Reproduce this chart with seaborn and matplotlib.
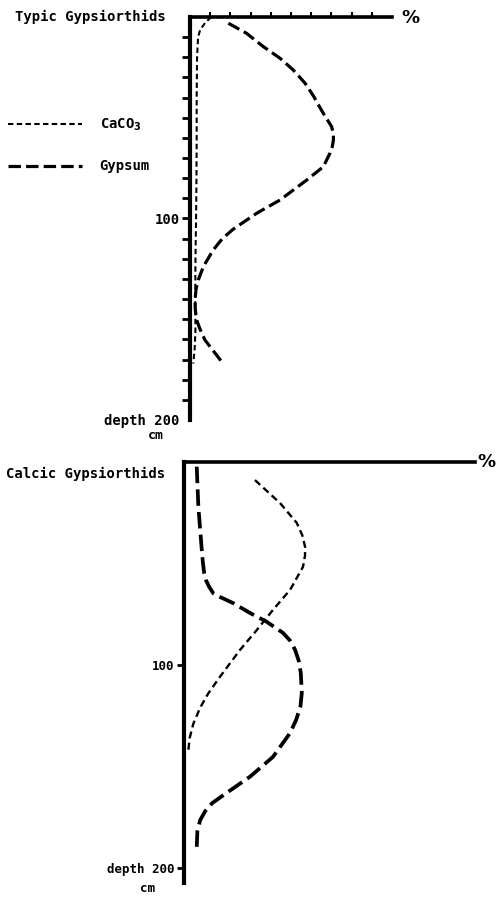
import seaborn as sns
import matplotlib.pyplot as plt

# Typic Gypsiorthids (top profile): depth in cm, content in %
typic_caco3_depth = [0, 3, 6.5, 10, 20, 40, 60, 80, 100, 120, 140, 155, 165, 172]
typic_caco3_pct = [10.5, 7.4, 5, 4, 3.5, 3.3, 3.3, 3.2, 3, 2.7, 2.6, 2.7, 2.3, 1.6]
typic_gyp_depth = [3.1, 8.1, 14.7, 20.5, 26.3, 32.9, 39.5, 44, 47.8, 54.4, 58, 61, 64.5,
                   67.6, 74.3, 80.9, 85.9, 90.8, 97.4, 105.3, 110, 115.6, 123.9,
                   130.5, 135, 140.4, 145, 150.4, 155, 160.3, 171.1]
typic_gyp_pct = [19, 28, 36.3, 44.6, 51.1, 57, 61.3, 63.8, 66, 70.1, 71, 71, 70.4,
                 69.3, 66, 57.8, 51.1, 44.6, 33, 21.4, 16, 11.5, 6.6,
                 4.1, 3, 2.5, 2.6, 3.3, 5, 7.4, 15.7]

# Calcic Gypsiorthids (bottom profile)
calcic_caco3_depth = [8.9, 20.2, 30, 36, 41.7, 46, 51.6, 63, 72.9, 82.8, 92.6, 105.8,
                      114, 121, 129, 136, 142.5]
calcic_caco3_pct = [35.1, 47.5, 55.8, 58.5, 59.9, 59.9, 58.9, 52.5, 44, 36, 27.7, 17.8,
                    12, 8, 4.6, 2.8, 2.1]
calcic_gyp_depth = [2.3, 22, 43.3, 50, 54.8, 58.5, 61.4, 64.7, 66.5, 69.5, 74.4, 78.7,
                    84.2, 88, 92.6, 98, 104, 113.8, 120.5, 127, 133.5, 145.3, 155, 163,
                    168, 172, 176.4, 182, 190]
calcic_gyp_pct = [6.3, 7.1, 8.8, 9.4, 10, 11, 12.4, 14.5, 17.8, 24.3, 32.7, 40.9,
                  49, 52.5, 55, 56.8, 57.8, 58.3, 57.6, 55.5, 52.5, 44, 32.7, 21.1,
                  14, 10.5, 8, 6.6, 6.3]

sns.set_style("white")
plt.rcParams["font.family"] = ["DejaVu Sans Mono", "DejaVu Sans"]
plt.rcParams["font.weight"] = "bold"
plt.rcParams["text.color"] = "black"
plt.rcParams["axes.edgecolor"] = "black"
plt.rcParams["xtick.color"] = "black"
plt.rcParams["ytick.color"] = "black"

W, H = 501, 905
fig = plt.figure(figsize=(W / 100, H / 100), dpi=100)

# axes boxes in pixels: left, top, right, bottom
ax1 = fig.add_axes([190 / W, 1 - 420 / H, 202 / W, 403 / H])
ax2 = fig.add_axes([184 / W, 1 - 883 / H, 291 / W, 421 / H])


def frame(ax, xmax, ymax):
    ax.set_xlim(0, xmax)
    ax.set_ylim(ymax, 0)
    ax.spines["right"].set_visible(False)
    ax.spines["bottom"].set_visible(False)
    ax.spines["left"].set_linewidth(3)
    ax.spines["top"].set_linewidth(2.6)
    ax.set_xlabel("")
    ax.set_ylabel("")
    ax.xaxis.set_ticks_position("top")
    ax.set_xticks([])


# ---- top panel
sns.lineplot(x=typic_caco3_pct, y=typic_caco3_depth, orient="y", sort=False,
             estimator=None, color="black", lw=1.5, linestyle=(0, (2.6, 1.6)),
             label="CaCO$_3$", ax=ax1)
sns.lineplot(x=typic_gyp_pct, y=typic_gyp_depth, orient="y", sort=False,
             estimator=None, color="black", lw=2.3, linestyle=(0, (3.9, 1.6)),
             label="Gypsum", ax=ax1)
frame(ax1, 100, 200)
ax1.set_yticks([100, 200], ["100", "depth 200"], fontsize=10)
ax1.set_yticks([v for v in range(10, 200, 10) if v != 100], minor=True)
ax1.tick_params(axis="y", which="both", left=True, direction="out", length=6,
                width=2, pad=1.5)
ax1.yaxis.get_major_ticks()[1].tick1line.set_visible(False)
ax1.set_xticks(list(range(10, 100, 10)), minor=True)
ax1.tick_params(axis="x", which="minor", top=True, bottom=False, direction="out",
                length=3.5, width=1.5, labeltop=False)
ax1.annotate("%", xy=(1, 1), xycoords="axes fraction", xytext=(7, -1),
             textcoords="offset points", ha="left", va="center", fontsize=13,
             fontweight="bold", family="DejaVu Sans")
ax1.annotate("cm", xy=(0, 200), xycoords="data", xytext=(-24.5, -11),
             textcoords="offset points", ha="center", va="center", fontsize=9.5)
fig.text(15 / W, 1 - 17 / H, "Typic Gypsiorthids", ha="left", va="center",
         fontsize=10, fontweight="bold")
ax1.legend(loc="center left", bbox_to_anchor=(8 / W, 1 - 145 / H),
           bbox_transform=fig.transFigure, frameon=False, handlelength=5.3,
           handletextpad=1.3, labelspacing=1.9, borderpad=0, borderaxespad=0,
           prop={"family": ["DejaVu Sans Mono", "DejaVu Sans"], "weight": "bold",
                 "size": 10})

# ---- bottom panel
sns.lineplot(x=calcic_caco3_pct, y=calcic_caco3_depth, orient="y", sort=False,
             estimator=None, color="black", lw=1.7, linestyle=(0, (3.0, 1.8)),
             ax=ax2)
sns.lineplot(x=calcic_gyp_pct, y=calcic_gyp_depth, orient="y", sort=False,
             estimator=None, color="black", lw=2.7, linestyle=(0, (4.4, 1.65)),
             ax=ax2)
frame(ax2, 144, 207.4)
ax2.set_yticks([100, 200], ["100", "depth 200"], fontsize=9)
ax2.tick_params(axis="y", which="major", left=True, direction="out", length=5,
                width=2, pad=2)
ax2.annotate("%", xy=(1, 1), xycoords="axes fraction", xytext=(1.5, 0),
             textcoords="offset points", ha="left", va="center", fontsize=13,
             fontweight="bold", family="DejaVu Sans")
ax2.annotate("cm", xy=(0, 200), xycoords="data", xytext=(-26.5, -14.5),
             textcoords="offset points", ha="center", va="center", fontsize=9)
fig.text(6 / W, 1 - 474 / H, "Calcic Gypsiorthids", ha="left", va="center",
         fontsize=10, fontweight="bold")
if ax2.get_legend() is not None:
    ax2.get_legend().remove()

fig.savefig("out.png", dpi=100)
